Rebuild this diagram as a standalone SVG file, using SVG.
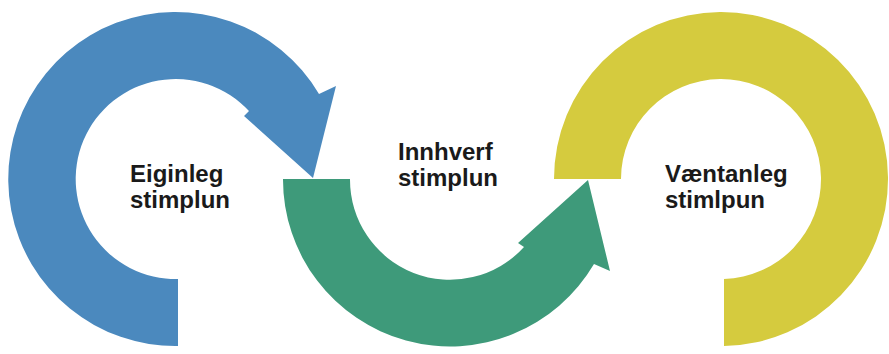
<svg xmlns="http://www.w3.org/2000/svg" width="889" height="354" viewBox="0 0 889 354">
  <style>
    .lbl { font-family: "Liberation Sans", Arial, sans-serif; font-weight: bold; font-size: 24px; fill: #1a1a1a; }
    .blue { fill: #4B89BE; }
    .green { fill: #3E9A7A; }
    .yellow { fill: #D5CB3E; }
  </style>
  <rect width="889" height="354" fill="#ffffff"/>
  <g id="connectors">
    <path id="arc-blue" class="blue" d="M178,346 L178,279 A100,100 0 1 1 249,111 L244,116 L313,178 L336,86 L319,94 A167,167 0 1 0 178,346 Z"/>
    <path id="arc-green" class="green" d="M283,179 L350,179 A100,100 0 0 0 524,247 L518,243 L588,180 L610,271 L594,264 A167,167 0 0 1 283,179 Z"/>
  </g>
  <g id="node-eiginleg">
    <text class="lbl" x="130" y="182">Eiginleg</text>
    <text class="lbl" x="130" y="208">stimplun</text>
  </g>
  <g id="node-innhverf">
    <text class="lbl" x="398" y="160">Innhverf</text>
    <text class="lbl" x="398" y="186">stimplun</text>
  </g>
  <g id="node-vaentanleg">
    <path class="yellow" d="M554,179 A167,167 0 1 1 724,346 L724,279 A100,100 0 1 0 621,179 Z"/>
    <text class="lbl" x="665" y="182">Væntanleg</text>
    <text class="lbl" x="665" y="208">stimlpun</text>
  </g>
</svg>
